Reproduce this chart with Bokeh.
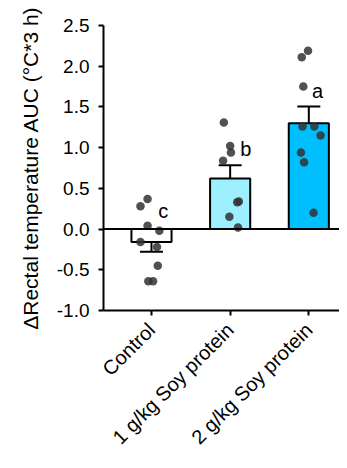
import math
from bokeh.plotting import figure
from bokeh.models import ColumnDataSource, Whisker, Span, FixedTicker, TeeHead, CustomJSTickFormatter
from bokeh.core.properties import value
from bokeh.embed import file_html
from bokeh.resources import INLINE

groups = ["Control", "1 g/kg Soy protein", "2 g/kg Soy protein"]
means = [-0.16, 0.62, 1.30]
sems = [0.12, 0.165, 0.205]
bar_colors = ["#FFFFFF", "#9CF0FF", "#00BFFF"]
letters = ["c", "b", "a"]
letter_y = [0.22, 0.98, 1.70]
letter_dx = [0.15, 0.20, 0.11]

control_pts = [0.37, 0.28, 0.04, -0.02, -0.16, -0.22, -0.45, -0.64, -0.64]
control_dx = [-0.05, -0.14, -0.05, 0.10, -0.14, 0.07, 0.08, -0.04, 0.02]
soy1_pts = [1.31, 1.02, 0.94, 0.84, 0.34, 0.33, 0.15, 0.02]
soy1_dx = [-0.08, 0.00, 0.01, -0.09, 0.11, 0.09, -0.01, 0.10]
soy2_pts = [2.19, 2.11, 1.75, 1.26, 1.26, 1.15, 0.94, 0.82, 0.20]
soy2_dx = [-0.01, -0.09, -0.07, -0.08, 0.07, 0.15, -0.10, -0.06, 0.06]

yticks = [-1.0, -0.5, 0.0, 0.5, 1.0, 1.5, 2.0, 2.5]

FONT = "Liberation Sans"

p = figure(width=339, height=460, x_range=(-0.61, 2.39), y_range=(-1.0, 2.5),
           output_backend="svg", toolbar_location=None,
           min_border_left=103, min_border_right=0, min_border_top=25, min_border_bottom=150)
p.outline_line_color = None
p.grid.visible = False
p.background_fill_color = "white"

xs = list(range(len(groups)))
bars = ColumnDataSource(dict(x=xs, top=means, color=bar_colors,
                             upper=[m + s for m, s in zip(means, sems)],
                             lower=[m - s for m, s in zip(means, sems)]))
p.vbar(x="x", top="top", bottom=0, width=0.51, fill_color="color",
       line_color="black", line_width=2, source=bars)

px, py = [], []
for i, (pts, dx) in enumerate([(control_pts, control_dx), (soy1_pts, soy1_dx), (soy2_pts, soy2_dx)]):
    for v, d in zip(pts, dx):
        px.append(i + d)
        py.append(v)
p.scatter(px, py, size=8.5, fill_color="#333333", fill_alpha=0.85, line_color=None)

w = Whisker(base="x", upper="upper", lower="lower", source=bars, dimension="height",
            line_color="black", line_width=2,
            upper_head=TeeHead(size=23, line_width=2, line_color="black"),
            lower_head=TeeHead(size=23, line_width=2, line_color="black"))
p.add_layout(w)

p.add_layout(Span(location=0, dimension="width", line_color="black", line_width=2))

p.text(x=[i + d for i, d in zip(xs, letter_dx)], y=letter_y, text=letters,
       text_font=value(FONT), text_font_size="20px", text_align="center",
       text_baseline="middle", text_color="black")

p.xaxis.ticker = FixedTicker(ticks=xs)
p.xaxis.major_label_overrides = {i: g for i, g in enumerate(groups)}
p.xaxis.major_label_orientation = math.pi / 4
p.xaxis.minor_tick_line_color = None
p.yaxis.ticker = FixedTicker(ticks=yticks)
p.yaxis.formatter = CustomJSTickFormatter(code="return tick.toFixed(1);")
p.yaxis.minor_tick_line_color = None
p.yaxis.axis_label = "ΔRectal temperature AUC (°C*3 h)"

for ax in (p.xaxis[0], p.yaxis[0]):
    ax.axis_line_width = 2
    ax.axis_line_color = "black"
    ax.major_tick_line_width = 2
    ax.major_tick_line_color = "black"
    ax.major_tick_in = 0
    ax.major_tick_out = 5
    ax.major_label_text_font = FONT
    ax.major_label_text_color = "black"
    ax.axis_label_text_font = FONT
    ax.axis_label_text_font_size = "21px"
    ax.axis_label_text_font_style = "normal"
    ax.axis_label_text_color = "black"

p.yaxis.major_label_text_font_size = "19px"
p.xaxis.major_label_text_font_size = "20px"
p.yaxis.major_label_standoff = 9
p.yaxis.axis_label_standoff = 12
p.xaxis.major_label_standoff = 11

open("out.html", "w").write(file_html(p, INLINE))
